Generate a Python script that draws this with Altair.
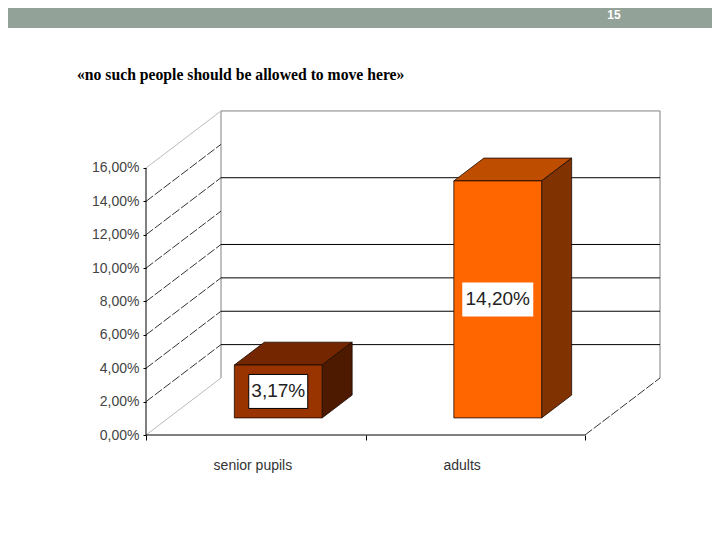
import altair as alt
import pandas as pd

# ---- data
categories = ["senior pupils", "adults"]
values = [3.17, 14.20]
value_labels = ["3,17%", "14,20%"]
front_colors = ["#993300", "#FF6600"]
top_colors = ["#732600", "#BF4D00"]
side_colors = ["#4D1A00", "#803300"]
label_anchor = [0.487, 1.44]
axis_ticks = [0, 2, 4, 6, 8, 10, 12, 14, 16]
side_grid = [2, 4, 6, 8, 10, 12, 14]
back_grid = [2, 4, 6, 8, 12]
title_text = "«no such people should be allowed to move here»"
page_number = "15"

# ---- oblique projection of the 3-D chart box
CAT_PX, PCT_PX, DEPTH_X, DEPTH_Y = 219.5, 16.69, 75.0, 57.0
PLOT_W, PLOT_H = 514, 324
N_CAT, TOP_PCT = 2, 16
BAR_W, D0, D1 = 0.4, 0.3, 0.7


def px(cat, d=0.0):
    return cat + d * DEPTH_X / CAT_PX


def py(pct, d=0.0):
    return pct + d * DEPTH_Y / PCT_PX


x_scale = alt.Scale(domain=[0, PLOT_W / CAT_PX], nice=False, zero=False)
y_scale = alt.Scale(domain=[0, PLOT_H / PCT_PX], nice=False, zero=False)
X = alt.X("x:Q", scale=x_scale, title=None,
          axis=alt.Axis(values=[0, 1, 2], labels=False, domain=False, grid=False,
                        tickSize=5, tickColor="#000000"))
Y = alt.Y("y:Q", scale=y_scale, title=None,
          axis=alt.Axis(values=axis_ticks, domain=False, grid=False, tickSize=3,
                        tickColor="#000000", labelPadding=4,
                        labelFont="Liberation Sans", labelFontSize=14, labelColor="#444444",
                        labelExpr="replace(format(datum.value,'.2f'),'.',',')+'%'"))


def segs(rows):
    return pd.DataFrame(rows, columns=["x", "y", "x2", "y2"])


def rule(rows, color, dash=None, width=1):
    kw = {"strokeDash": dash} if dash else {}
    return alt.Chart(segs(rows)).mark_rule(color=color, strokeWidth=width, **kw).encode(
        x=X, y=Y, x2="x2:Q", y2="y2:Q")


# walls and floor
wall_edge = rule([
    [px(0, 1), py(0, 1), px(0, 1), py(TOP_PCT, 1)],
    [px(0, 1), py(TOP_PCT, 1), px(N_CAT, 1), py(TOP_PCT, 1)],
    [px(N_CAT, 1), py(TOP_PCT, 1), px(N_CAT, 1), py(0, 1)],
], "#808080")
back_lines = rule([[px(0, 1), py(v, 1), px(N_CAT, 1), py(v, 1)] for v in back_grid], "#000000")
side_lines = rule([[px(0), py(v), px(0, 1), py(v, 1)] for v in side_grid] +
                  [[px(N_CAT), py(0), px(N_CAT, 1), py(0, 1)]], "#333333", dash=[9, 2])
pale_lines = rule([[px(0), py(0), px(0, 1), py(0, 1)],
                   [px(0), py(TOP_PCT), px(0, 1), py(TOP_PCT, 1)]], "#BBBBBB")
axis_lines = rule([[px(0), py(0), px(0), py(TOP_PCT)],
                   [px(0), py(0), px(N_CAT), py(0)]], "#000000")

# bars
front_rows, side_rows, top_rows, colors_dom, colors_rng = [], [], [], [], []
for i, v in enumerate(values):
    left, right = i + 0.5 - BAR_W / 2, i + 0.5 + BAR_W / 2
    front_rows.append({"face": f"f{i}", "x": px(left, D0), "x2": px(right, D0),
                       "y": py(v, D0), "y2": py(0, D0)})
    for d in (D0, D1):
        side_rows.append({"face": f"s{i}", "x": px(right, d), "y": py(v, d), "y2": py(0, d)})
        top_rows.append({"face": f"t{i}", "y": py(v, d), "x": px(left, d), "x2": px(right, d)})
    colors_dom += [f"f{i}", f"s{i}", f"t{i}"]
    colors_rng += [front_colors[i], side_colors[i], top_colors[i]]
Fill = alt.Color("face:N", scale=alt.Scale(domain=colors_dom, range=colors_rng), legend=None)
face_stroke = "#1a0a00"
tops = alt.Chart(pd.DataFrame(top_rows)).mark_area(
    orient="horizontal", stroke=face_stroke, strokeWidth=0.8, opacity=1).encode(
    y=Y, x=X, x2="x2:Q", color=Fill)
sides = alt.Chart(pd.DataFrame(side_rows)).mark_area(
    stroke=face_stroke, strokeWidth=0.8, opacity=1).encode(
    x=X, y=Y, y2="y2:Q", color=Fill)
fronts = alt.Chart(pd.DataFrame(front_rows)).mark_rect(
    stroke=face_stroke, strokeWidth=0.8).encode(
    x=X, x2="x2:Q", y=Y, y2="y2:Q", color=Fill)

# value labels, centred on the front faces
lab = pd.DataFrame({
    "x": [px(i + 0.5, D0) for i in range(len(values))],
    "y": [py(v / 2, D0) for v in values],
    "t": value_labels,
})
box0 = alt.Chart(lab.iloc[[0]]).mark_rect(width=59, height=34, fill="#FFFFFF", stroke="#000000",
                                          strokeWidth=1).encode(x=X, y=Y)
box1 = alt.Chart(lab.iloc[[1]]).mark_rect(width=71, height=34, fill="#FFFFFF").encode(x=X, y=Y)
lab_text = alt.Chart(lab).mark_text(font="Liberation Sans", fontSize=19, color="#222222").encode(
    x=X, y=Y, text="t:N")

# category labels
cat_text = alt.Chart(pd.DataFrame({"x": label_anchor, "t": categories})).mark_text(
    font="Liberation Sans", fontSize=14, color="#333333").encode(
    x=X, y=alt.value(355), text="t:N")

# slide header and heading
one = pd.DataFrame({"t": [title_text], "n": [page_number]})
header = alt.Chart(one).mark_rect(color="#93A299").encode(
    x=alt.value(-138), x2=alt.value(566), y=alt.value(-103), y2=alt.value(-83))
number = alt.Chart(one).mark_text(
    font="Liberation Sans", fontSize=12, fontWeight="bold", color="#FFFFFF").encode(
    x=alt.value(468), y=alt.value(-96), text="n:N")
heading = alt.Chart(one).mark_text(
    font="Liberation Serif", fontSize=15.7, fontWeight="bold", color="#000000", align="left").encode(
    x=alt.value(-69), y=alt.value(-36), text="t:N")

chart = alt.layer(
    header, number, heading, wall_edge, back_lines, side_lines, pale_lines, axis_lines,
    tops, sides, fronts, box0, box1, lab_text, cat_text,
).properties(
    width=PLOT_W, height=PLOT_H,
    padding={"left": 138, "top": 103, "right": 52, "bottom": 70},
    autosize=alt.AutoSizeParams(type="none"),
    background="#FFFFFF",
).configure_view(stroke=None)

chart.save("out.html", embed_options={"renderer": "svg", "actions": False})
